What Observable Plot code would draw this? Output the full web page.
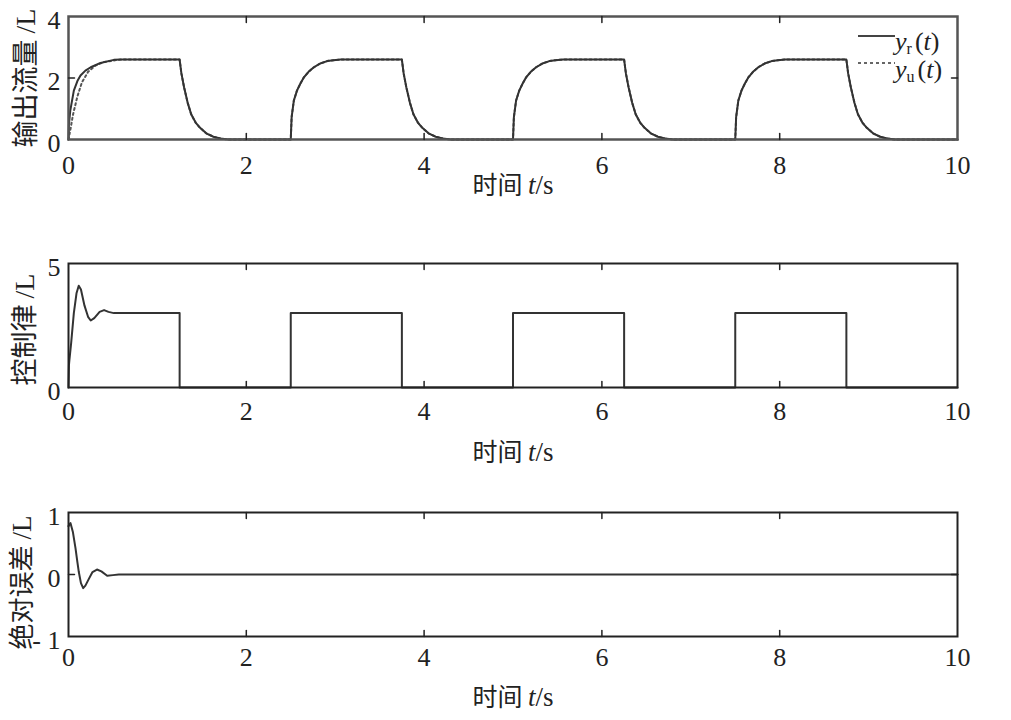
<!DOCTYPE html>
<html>
<head>
<meta charset="utf-8">
<script src="https://cdn.jsdelivr.net/npm/d3@7"></script>
<script src="https://cdn.jsdelivr.net/npm/@observablehq/plot@0.6"></script>
<style>
  html, body { margin: 0; padding: 0; background: #fff; }
  #root { position: relative; width: 1011px; height: 720px; overflow: hidden; background: #fff; }
  .panel { position: absolute; left: 0; }
  .panel svg { overflow: visible; }
  #legend { position: absolute; left: 0; top: 0; pointer-events: none; }
</style>
</head>
<body>
<div id="root"></div>
<script>
// ---------------- data ----------------
const cycleStarts = [0, 2.5, 5, 7.5];       // s, start of each pulse
const holdEnd = 1.25;                         // s after start, output begins decay / control switches off
const xTicks = [0, 2, 4, 6, 8, 10];

// output flow, first pulse (rise)
const yr1T = [0, 0.005, 0.02, 0.06, 0.1, 0.135, 0.19, 0.25, 0.36, 0.51, 0.6];
const yr1V = [0, 0.5, 0.94, 1.59, 1.9, 2.08, 2.24, 2.35, 2.49, 2.59, 2.6];
// output flow, later pulses (rise, relative time)
const riseT = [0, 0.01, 0.035, 0.07, 0.11, 0.15, 0.2, 0.26, 0.33, 0.41, 0.48, 0.56];
const riseV = [0, 0.73, 1.27, 1.59, 1.83, 2.03, 2.2, 2.35, 2.47, 2.55, 2.58, 2.6];
// output flow decay (relative to holdEnd)
const decayT = [0, 0.02, 0.05, 0.09, 0.13, 0.18, 0.23, 0.3, 0.38, 0.46, 0.55];
const decayV = [2.6, 2.15, 1.7, 1.2, 0.82, 0.55, 0.38, 0.2, 0.09, 0.03, 0];
// reference yu, first pulse (rise)
const yu1T = [0, 0.02, 0.05, 0.1, 0.15, 0.22, 0.3, 0.4, 0.55, 0.6];
const yu1V = [0, 0.3, 0.8, 1.4, 1.85, 2.2, 2.4, 2.52, 2.59, 2.6];

// control law, first pulse
const u1T = [0, 0.005, 0.01, 0.03, 0.06, 0.09, 0.115, 0.14, 0.18, 0.22, 0.25, 0.29, 0.35, 0.4, 0.45, 0.51];
const u1V = [0, 0.9, 1.1, 1.8, 3.0, 3.8, 4.1, 3.95, 3.3, 2.85, 2.7, 2.8, 3.05, 3.12, 3.05, 3.0];
const uLevel = 3.0;

// absolute error
const eT = [0, 0.022, 0.05, 0.079, 0.1, 0.116, 0.14, 0.165, 0.19, 0.229, 0.27, 0.32, 0.37, 0.435, 0.5, 0.566, 10];
const eV = [0.78, 0.83, 0.68, 0.42, 0.2, 0.04, -0.14, -0.22, -0.18, -0.07, 0.04, 0.08, 0.05, -0.02, -0.01, 0, 0];

// ---------------- build series ----------------
function outputSeries(firstT, firstV) {
  const pts = [];
  cycleStarts.forEach((s, k) => {
    const rt = k === 0 ? firstT : riseT, rv = k === 0 ? firstV : riseV;
    rt.forEach((t, i) => pts.push({t: s + t, v: rv[i]}));
    decayT.forEach((t, i) => pts.push({t: s + holdEnd + t, v: decayV[i]}));
  });
  pts.push({t: 10, v: 0});
  return pts;
}
const yrData = outputSeries(yr1T, yr1V);
const yuData = outputSeries(yu1T, yu1V);

const uData = [];
cycleStarts.forEach((s, k) => {
  if (k === 0) u1T.forEach((t, i) => uData.push({t: s + t, v: u1V[i]}));
  else { uData.push({t: s, v: 0}); uData.push({t: s, v: uLevel}); }
  uData.push({t: s + holdEnd, v: uLevel});
  uData.push({t: s + holdEnd, v: 0});
});
uData.push({t: 10, v: 0});

const eData = eT.map((t, i) => ({t, v: eV[i]}));

// ---------------- drawing ----------------
const SERIF = "Liberation Serif, Times New Roman, serif";
const CJK = "Noto Sans CJK SC, sans-serif";
const lineShape = {draw(ctx, l) { ctx.moveTo(0, 0); ctx.lineTo(0, -l); }};

function panel({top, height, mTop, mBottom, yDomain, yTicks, yFmt, ylab, ylabDx, ylabDy, ylabSize, xlabDy, xPad, frameStroke, frameWidth, marks}) {
  const tickMarks = [
    Plot.vector(xTicks.slice(1, -1), {x: d => d, frameAnchor: "bottom", rotate: 0, length: 6, anchor: "start", shape: lineShape, stroke: "#222", strokeWidth: 1.5}),
    Plot.vector(xTicks.slice(1, -1), {x: d => d, frameAnchor: "top", rotate: 180, length: 6, anchor: "start", shape: lineShape, stroke: "#222", strokeWidth: 1.5}),
    Plot.vector(yTicks.slice(1, -1), {y: d => d, frameAnchor: "left", rotate: 90, length: 6, anchor: "start", shape: lineShape, stroke: "#222", strokeWidth: 1.5}),
    Plot.vector(yTicks.slice(1, -1), {y: d => d, frameAnchor: "right", rotate: -90, length: 6, anchor: "start", shape: lineShape, stroke: "#222", strokeWidth: 1.5})
  ];
  const svg = Plot.plot({
    width: 1011, height,
    marginLeft: 68, marginRight: 54, marginTop: mTop, marginBottom: mBottom,
    style: {fontFamily: SERIF, fontSize: "26px", color: "#222", background: "#fff", overflow: "visible"},
    x: {domain: [0, 10], axis: null},
    y: {domain: yDomain, axis: null},
    marks: [
      ...marks,
      Plot.frame({stroke: frameStroke, strokeWidth: frameWidth}),
      ...tickMarks,
      Plot.axisX(xTicks, {anchor: "bottom", tickSize: 0, tickPadding: xPad, label: null, fontSize: 26, fill: "#222"}),
      Plot.text(["y"], {frameAnchor: "left", dx: ylabDx, dy: ylabDy, rotate: -90, textAnchor: "middle", lineAnchor: "middle", text: d => ylab, className: "ylab", fill: "#222"}),
      Plot.axisY(yTicks, {anchor: "left", tickSize: 0, tickPadding: 8, label: null, tickFormat: yFmt, fontSize: 26, dy: 4, fill: "#222"}),
      Plot.text(["x"], {frameAnchor: "bottom", dy: xlabDy, text: d => "时间 t/s", className: "xlab", fill: "#222"})
    ]
  });
  // mixed fonts for labels
  d3.select(svg).selectAll(".xlab text").each(function () {
    const t = d3.select(this); t.text(null);
    t.append("tspan").attr("font-family", CJK).attr("font-size", 25).text("时间 ");
    t.append("tspan").attr("font-family", SERIF).attr("font-size", 27).attr("font-style", "italic").text("t");
    t.append("tspan").attr("font-family", SERIF).attr("font-size", 27).text("/s");
  });
  d3.select(svg).selectAll(".ylab text").each(function () {
    const t = d3.select(this); t.text(null);
    t.append("tspan").attr("font-family", CJK).attr("font-size", ylabSize).text(ylab + " ");
    t.append("tspan").attr("font-family", SERIF).attr("font-size", ylabSize + 1).text("/L");
  });
  const div = document.createElement("div");
  div.className = "panel";
  div.style.top = top + "px";
  div.appendChild(svg);
  document.getElementById("root").appendChild(div);
}

const stroke = "#333";
panel({
  top: 0, height: 245, mTop: 16, mBottom: 106,
  yDomain: [0, 4], yTicks: [0, 2, 4], yFmt: d => String(d),
  ylab: "输出流量", ylabDx: -42, ylabDy: 0, ylabSize: 27, xlabDy: 54, xPad: 16, frameStroke: "#555", frameWidth: 2.5,
  marks: [
    Plot.line(yuData, {x: "t", y: "v", stroke: "#555", strokeWidth: 2, strokeDasharray: "2,3"}),
    Plot.line(yrData, {x: "t", y: "v", stroke, strokeWidth: 2})
  ]
});
panel({
  top: 245, height: 245, mTop: 18, mBottom: 103,
  yDomain: [0, 5], yTicks: [0, 5], yFmt: d => String(d),
  ylab: "控制律", ylabDx: -43, ylabDy: 4, ylabSize: 27, xlabDy: 73, xPad: 14, frameStroke: "#222", frameWidth: 2,
  marks: [
    Plot.line(uData, {x: "t", y: "v", stroke, strokeWidth: 2})
  ]
});
panel({
  top: 490, height: 230, mTop: 22, mBottom: 84,
  yDomain: [-1, 1], yTicks: [-1, 0, 1], yFmt: d => d < 0 ? "- 1" : String(d),
  ylab: "绝对误差", ylabDx: -46, ylabDy: 8, ylabSize: 26, xlabDy: 69, xPad: 11, frameStroke: "#222", frameWidth: 2,
  marks: [
    Plot.line(eData, {x: "t", y: "v", stroke, strokeWidth: 2})
  ]
});

// legend overlay (top panel, upper right)
const legendItems = [
  {sub: "r", dash: null},
  {sub: "u", dash: "3,3"}
];
const lg = d3.select("#root").append("svg").attr("id", "legend").attr("width", 1011).attr("height", 720);
legendItems.forEach((it, i) => {
  const yLine = 36 + i * 27, yText = 50 + i * 28;
  lg.append("line").attr("x1", 858).attr("x2", 895).attr("y1", yLine).attr("y2", yLine)
    .attr("stroke", i === 0 ? "#444" : "#666").attr("stroke-width", 2).attr("stroke-dasharray", it.dash);
  const t = lg.append("text").attr("x", 895).attr("y", yText).attr("font-family", SERIF).attr("font-size", 26).attr("fill", "#222");
  t.append("tspan").attr("font-style", "italic").text("y");
  t.append("tspan").attr("font-size", 16).attr("dy", 4).text(it.sub);
  t.append("tspan").attr("dy", -4).attr("dx", 3).text("(");
  t.append("tspan").attr("font-style", "italic").text("t");
  t.append("tspan").text(")");
});
</script>
</body>
</html>
